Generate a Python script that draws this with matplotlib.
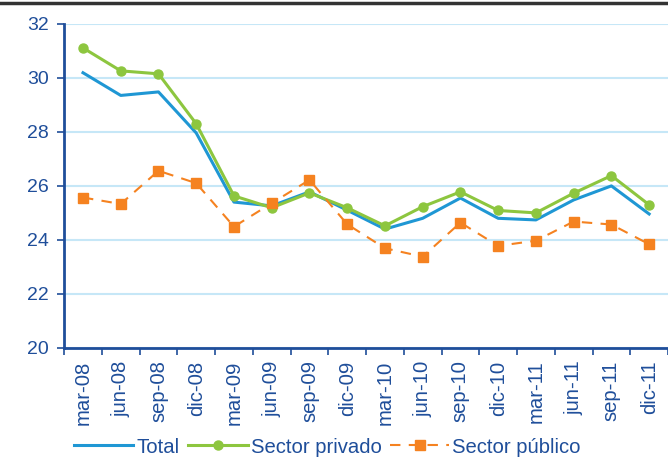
import numpy as np
import matplotlib.pyplot as plt
from matplotlib.lines import Line2D

plt.rcParams['font.family'] = ['Liberation Sans', 'DejaVu Sans']

# Data
periods = ['mar-08', 'jun-08', 'sep-08', 'dic-08', 'mar-09', 'jun-09', 'sep-09', 'dic-09',
           'mar-10', 'jun-10', 'sep-10', 'dic-10', 'mar-11', 'jun-11', 'sep-11', 'dic-11']
total = [30.19, 29.35, 29.48, 27.96, 25.40, 25.26, 25.78, 25.10,
         24.40, 24.80, 25.55, 24.80, 24.74, 25.48, 26.00, 24.96]
privado = [31.11, 30.26, 30.15, 28.30, 25.63, 25.19, 25.74, 25.19,
           24.52, 25.23, 25.78, 25.09, 25.00, 25.73, 26.38, 25.30]
publico = [25.57, 25.33, 26.56, 26.10, 24.49, 25.36, 26.22, 24.58,
           23.69, 23.38, 24.64, 23.78, 23.97, 24.68, 24.57, 23.84]

text_color = '#1f4e9a'
blue = '#1f97d4'
green = '#8dc63f'
orange = '#f58220'

fig = plt.figure(figsize=(6.68, 4.59), dpi=100)
ax = fig.add_axes([0.096, 0.242, 0.904, 0.706])

x = np.arange(len(periods))
ax.plot(x, total, color=blue, lw=2.2, label='Total')
ax.plot(x, privado, color=green, lw=2.2, marker='o', markersize=6.5, label='Sector privado')
ax.plot(x, publico, color=orange, lw=1.5, ls=(0, (5, 4)), marker='s', markersize=6.5,
        label='Sector público')

ax.set_ylim(20, 32)
ax.set_yticks(range(20, 33, 2))
ax.set_xlim(-0.5, len(periods) - 0.5)
ax.set_xticks(x)
ax.set_xticklabels(periods, rotation=90)
ax.set_xticks(np.arange(-0.5, len(periods)), minor=True)
ax.tick_params(axis='x', which='major', length=0, pad=9, labelsize=14.6, labelcolor=text_color)
ax.tick_params(axis='x', which='minor', length=5, width=1.2, color=text_color)
ax.tick_params(axis='y', length=5, width=1.2, color=text_color, labelsize=14,
               labelcolor=text_color, pad=6)

ax.grid(axis='y', color='#c6e7f7', lw=1.5)
ax.set_axisbelow(True)
for side in ['top', 'right']:
    ax.spines[side].set_visible(False)
for side in ['left', 'bottom']:
    ax.spines[side].set_color(text_color)
    ax.spines[side].set_linewidth(2)

leg = fig.legend(loc='center', bbox_to_anchor=(0.49, 0.026), ncol=3, frameon=False,
                 fontsize=14.6, handlelength=2.95, handletextpad=0.15, columnspacing=0.4,
                 borderpad=0, borderaxespad=0)
for t in leg.get_texts():
    t.set_color(text_color)

# top rule left over from the cropped title
fig.add_artist(Line2D([0, 1], [0.993, 0.993], color='#333333', lw=2.5))

plt.savefig('out.png', dpi=100)
plt.close()
